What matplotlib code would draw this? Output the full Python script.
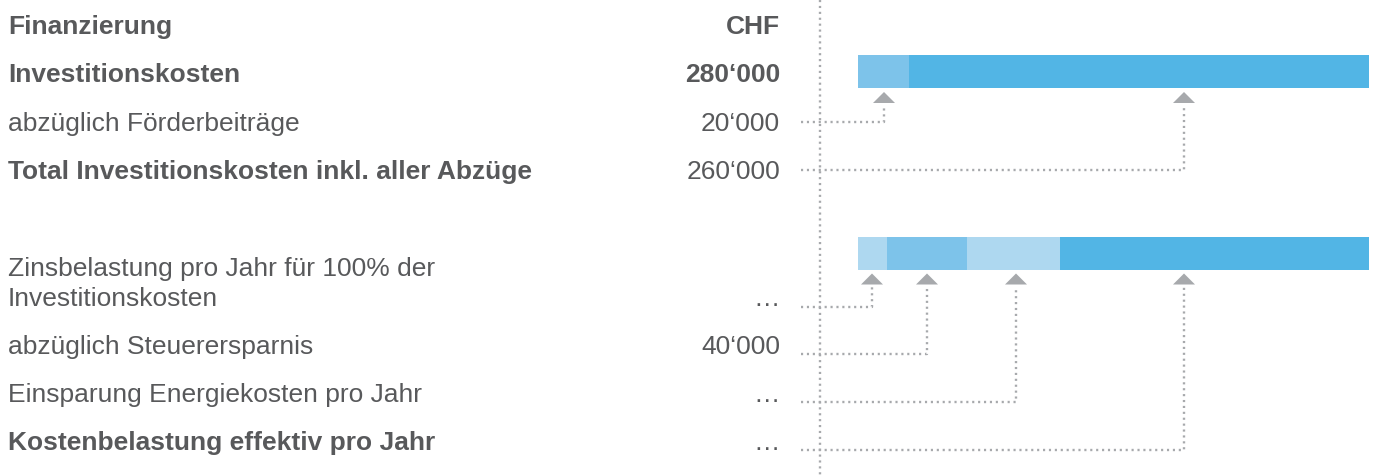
import matplotlib
matplotlib.use("Agg")
import matplotlib.pyplot as plt
from matplotlib.patches import Polygon
import numpy as np

# ---------------- data ----------------
top_labels = ["Finanzierung", "Investitionskosten", "abzüglich Förderbeiträge",
              "Total Investitionskosten inkl. aller Abzüge"]
top_values = ["CHF", "280‘000", "20‘000", "260‘000"]
top_label_bold = [True, True, False, True]
top_value_bold = [True, True, False, False]

bottom_labels = ["Zinsbelastung pro Jahr für 100% der\nInvestitionskosten",
                 "abzüglich Steuerersparnis",
                 "Einsparung Energiekosten pro Jahr",
                 "Kostenbelastung effektiv pro Jahr"]
bottom_values = ["…", "40‘000", "…", "…"]
bottom_label_bold = [False, False, False, True]

# bar segments (schematic lengths, not to scale)
bar1_segments = [51, 460]
bar2_segments = [29, 80, 93, 309]
# arrow positions along each bar (from bar start)
bar1_arrows = [26, 326]
bar2_arrows = [14, 69, 158, 326]

# ---------------- style ----------------
TEXT = "#58595B"
GREY = "#A7A9AC"
C_DARK = "#52B5E5"
C_MID = "#7DC3EA"
C_LIGHT = "#AED8F0"
bar1_colors = [C_MID, C_DARK]
bar2_colors = [C_LIGHT, C_MID, C_LIGHT, C_DARK]

FONT = ["Liberation Sans", "DejaVu Sans"]
FS = 19

W, H = 1385, 476
fig = plt.figure(figsize=(W / 100, H / 100), dpi=100)
ax = fig.add_axes([0, 0, 1, 1])
ax.set_xlim(0, W)
ax.set_ylim(H, 0)
ax.axis("off")

LABEL_X = 8
VALUE_X = 780
VLINE_X = 819.5
LINE_START = 801
BAR_X0 = 858

dot = dict(color=GREY, lw=1.7, linestyle=(0, (0.9, 1.6)), solid_capstyle="butt",
           dash_capstyle="butt")

# vertical dotted divider
ax.plot([VLINE_X, VLINE_X], [0, H], **dot)


def txt(x, y, s, bold, ha="left"):
    ax.text(x, y, s, ha=ha, va="baseline", fontsize=FS, family=FONT,
            fontweight="bold" if bold else "normal", color=TEXT)


# top block text
top_base = [34, 82, 131, 179]
for lab, val, lb, vb, yb in zip(top_labels, top_values, top_label_bold,
                                 top_value_bold, top_base):
    txt(LABEL_X, yb, lab, lb)
    txt(VALUE_X, yb, val, vb, ha="right")

# bottom block text
bottom_base = [306, 354, 402, 450]
for lab, val, lb, yb in zip(bottom_labels, bottom_values, bottom_label_bold,
                            bottom_base):
    lines = lab.split("\n")
    n = len(lines)
    for k, line in enumerate(lines):
        txt(LABEL_X, yb - (n - 1 - k) * 30, line, lb)
    txt(VALUE_X, yb, val, False, ha="right")


def draw_bar(yc, segs, colors, arrows, line_ys, h=33):
    lefts = BAR_X0 + np.concatenate([[0], np.cumsum(segs)[:-1]])
    ax.barh([yc] * len(segs), segs, left=lefts, height=h, color=colors,
            edgecolor="none", linewidth=0)
    bottom = yc + h / 2
    tip = bottom + 4
    base = tip + 11
    for a, ly in zip(arrows, line_ys):
        xa = BAR_X0 + a
        ax.add_patch(Polygon([[xa - 11, base], [xa + 11, base], [xa, tip]],
                             closed=True, color=GREY, lw=0))
        ax.plot([LINE_START, xa, xa], [ly, ly, base + 2], **dot)


draw_bar(71.5, bar1_segments, bar1_colors, bar1_arrows, [122, 170])
draw_bar(253, bar2_segments, bar2_colors, bar2_arrows, [307, 354, 402, 450])

fig.savefig("out.png", dpi=100, facecolor="white")
